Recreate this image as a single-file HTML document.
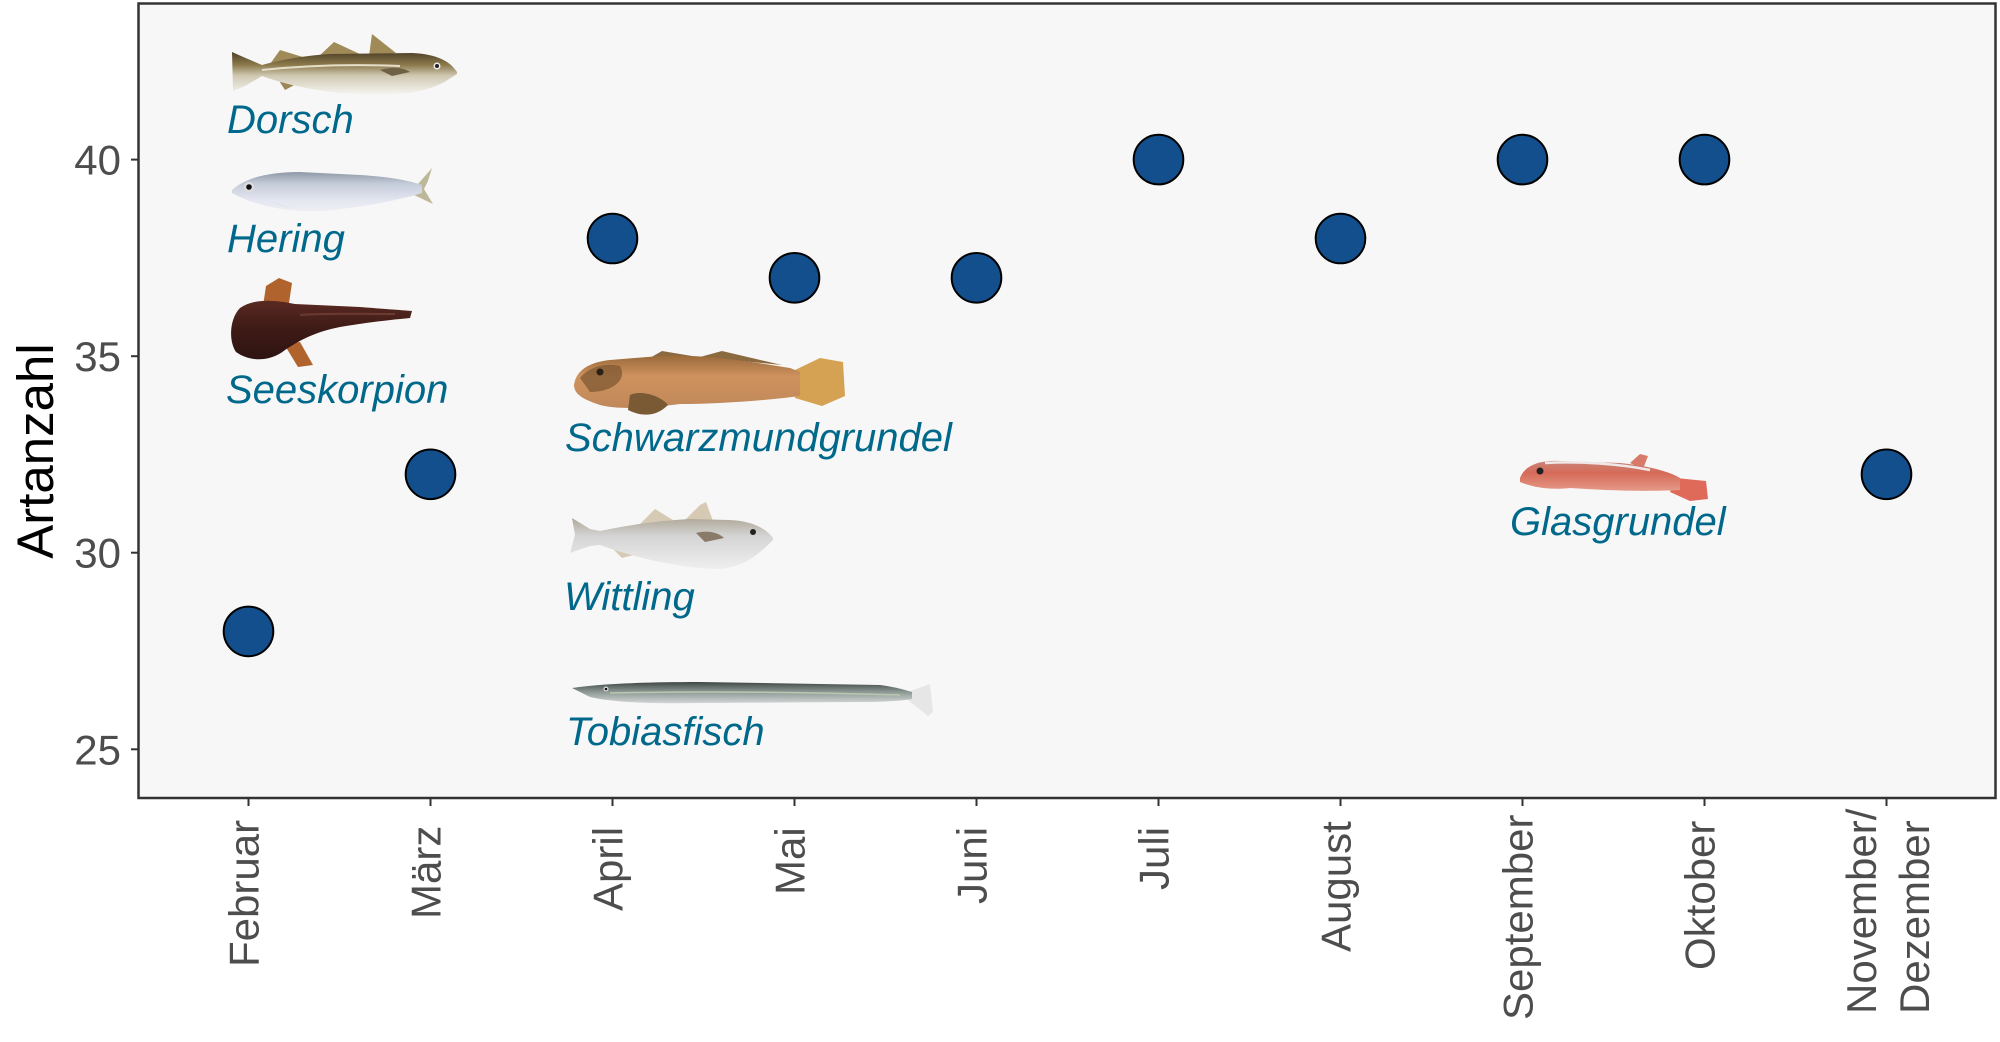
<!DOCTYPE html>
<html><head><meta charset="utf-8"><style>
html,body{margin:0;padding:0;background:#fff;}
svg{display:block;}
.tick{font-family:"Liberation Sans",sans-serif;font-size:42px;fill:#4d4d4d;}
.lab{font-family:"Liberation Sans",sans-serif;font-size:40px;font-style:italic;fill:#00688B;}
</style></head><body>
<svg width="2000" height="1042" viewBox="0 0 2000 1042" xmlns="http://www.w3.org/2000/svg">
<defs>
<linearGradient id="gDorsch" x1="0" y1="0" x2="0" y2="1">
<stop offset="0" stop-color="#4e4128"/><stop offset="0.3" stop-color="#8c7a4c"/><stop offset="0.55" stop-color="#cfc8b2"/><stop offset="1" stop-color="#f6f6f2"/></linearGradient>
<linearGradient id="gHering" x1="0" y1="0" x2="0" y2="1">
<stop offset="0" stop-color="#8e98a6"/><stop offset="0.3" stop-color="#c5ccd9"/><stop offset="0.7" stop-color="#e3e5f0"/><stop offset="1" stop-color="#efeff4"/></linearGradient>
<linearGradient id="gSkorp" x1="0" y1="0" x2="0" y2="1">
<stop offset="0" stop-color="#5a2a22"/><stop offset="0.5" stop-color="#3d1a16"/><stop offset="1" stop-color="#2e1411"/></linearGradient>
<linearGradient id="gSchw" x1="0" y1="0" x2="0" y2="1">
<stop offset="0" stop-color="#9a6a3a"/><stop offset="0.4" stop-color="#cf925e"/><stop offset="1" stop-color="#c0885a"/></linearGradient>
<linearGradient id="gWitt" x1="0" y1="0" x2="0" y2="1">
<stop offset="0" stop-color="#b0a898"/><stop offset="0.35" stop-color="#d4d4d4"/><stop offset="1" stop-color="#efefef"/></linearGradient>
<linearGradient id="gTobi" x1="0" y1="0" x2="0" y2="1">
<stop offset="0" stop-color="#3e4644"/><stop offset="0.45" stop-color="#8a9692"/><stop offset="1" stop-color="#d2d6d6"/></linearGradient>
<linearGradient id="gGlas" x1="0" y1="0" x2="0" y2="1">
<stop offset="0" stop-color="#c8857a"/><stop offset="0.4" stop-color="#d66a58"/><stop offset="1" stop-color="#e59a88"/></linearGradient>
</defs>
<rect width="2000" height="1042" fill="#ffffff"/>
<rect x="138.5" y="3.5" width="1857" height="794.5" fill="#f7f7f7" stroke="#333333" stroke-width="2.5"/>

<!-- y ticks -->
<g stroke="#333333" stroke-width="2">
<line x1="131" y1="749.3" x2="138" y2="749.3"/>
<line x1="131" y1="552.7" x2="138" y2="552.7"/>
<line x1="131" y1="356.2" x2="138" y2="356.2"/>
<line x1="131" y1="159.6" x2="138" y2="159.6"/>
</g>
<g class="tick" text-anchor="end">
<text x="121" y="764.3">25</text>
<text x="121" y="567.7">30</text>
<text x="121" y="371.2">35</text>
<text x="121" y="174.6">40</text>
</g>
<text transform="translate(53,451) rotate(-90)" text-anchor="middle" font-family="Liberation Sans, sans-serif" font-size="51" fill="#000">Artanzahl</text>

<!-- x ticks -->
<g stroke="#333333" stroke-width="2">
<line x1="248.5" y1="799" x2="248.5" y2="806"/>
<line x1="430.5" y1="799" x2="430.5" y2="806"/>
<line x1="612.5" y1="799" x2="612.5" y2="806"/>
<line x1="794.5" y1="799" x2="794.5" y2="806"/>
<line x1="976.5" y1="799" x2="976.5" y2="806"/>
<line x1="1158.5" y1="799" x2="1158.5" y2="806"/>
<line x1="1340.5" y1="799" x2="1340.5" y2="806"/>
<line x1="1522.5" y1="799" x2="1522.5" y2="806"/>
<line x1="1704.5" y1="799" x2="1704.5" y2="806"/>
<line x1="1886.5" y1="799" x2="1886.5" y2="806"/>
</g>
<g class="tick">
<text transform="translate(258.5,967) rotate(-90)">Februar</text>
<text transform="translate(440.5,919) rotate(-90)">März</text>
<text transform="translate(622.5,911) rotate(-90)">April</text>
<text transform="translate(804.5,895) rotate(-90)">Mai</text>
<text transform="translate(986.5,904) rotate(-90)">Juni</text>
<text transform="translate(1168.5,890) rotate(-90)">Juli</text>
<text transform="translate(1350.5,952) rotate(-90)">August</text>
<text transform="translate(1532.5,1020) rotate(-90)">September</text>
<text transform="translate(1714.5,970) rotate(-90)">Oktober</text>
<text transform="translate(1876,1014) rotate(-90)">November/</text>
<text transform="translate(1929,1014) rotate(-90)">Dezember</text>
</g>

<!-- Dorsch -->
<g>
<path d="M270,64 L280,50 L306,58 Z" fill="#a08a58"/>
<path d="M318,57 L334,42 L362,55 Z" fill="#a08a58"/>
<path d="M369,56 L372,34 L396,53 Z" fill="#a08a58"/>
<path d="M276,76 L285,90 L300,82 Z" fill="#9c8656"/>
<path d="M318,86 L338,92 L345,88 Z" fill="#9c8656"/>
<path d="M457,72 C450,61 436,54 412,53 L330,54 C300,56 276,61 262,65 L241,56 L232,52 L233,91 L245,86 L262,76 C290,86 330,95 380,95 C412,95 432,89 446,81 L457,74 Z" fill="url(#gDorsch)"/>
<path d="M262,70 C300,66 350,64 400,66" stroke="#e6dfc8" stroke-width="2" fill="none"/>
<path d="M380,70 C392,66 405,68 410,72 L392,76 Z" fill="#6f6244"/>
<circle cx="437" cy="66" r="3.5" fill="#eee"/><circle cx="437" cy="66" r="2" fill="#222"/>
</g>
<text class="lab" x="227" y="133">Dorsch</text>

<!-- Hering -->
<g>
<path d="M418,184 L432,168 L428,181 L424,189 L433,204 L414,195 Z" fill="#bdb89a"/>
<path d="M232,190 C245,178 268,172 300,172 L360,175 C392,177 410,181 422,185 L422,193 C400,200 360,208 320,211 C290,213 255,206 232,193 Z" fill="url(#gHering)"/>
<path d="M270,202 L292,208 L280,205 Z" fill="#c8c8c8"/>
<circle cx="249" cy="187" r="5" fill="#ddd"/><circle cx="249" cy="187" r="2.8" fill="#111"/>
</g>
<text class="lab" x="227" y="252">Hering</text>

<!-- Seeskorpion -->
<g>
<path d="M263,306 L266,286 L279,278 L292,283 L289,303 Z" fill="#b0632d"/>
<path d="M284,344 L298,367 L313,365 L300,342 Z" fill="#b0632d"/>
<path d="M240,308 C255,298 275,300 295,304 L360,307 C385,309 400,310 412,311 L410,318 C390,320 370,322 340,327 C315,332 300,340 285,350 C270,362 250,362 236,352 C228,340 230,318 240,308 Z" fill="url(#gSkorp)"/>
<path d="M300,315 C330,313 360,314 395,314" stroke="#6b3a30" stroke-width="2" fill="none"/>
</g>
<text class="lab" x="226" y="403">Seeskorpion</text>

<!-- Schwarzmundgrundel -->
<g>
<path d="M648,359 L662,351 L692,356 Z" fill="#8c6a40"/>
<path d="M700,357 L722,351 L782,365 Z" fill="#8c6a40"/>
<path d="M795,370 L820,358 L843,362 L845,396 L822,406 L795,398 Z" fill="#d4a252"/>
<path d="M574,385 C576,370 590,362 610,360 L660,356 C700,354 740,360 790,368 L800,372 L800,396 C770,400 720,404 680,404 C650,408 620,410 600,405 C585,400 574,395 574,385 Z" fill="url(#gSchw)"/>
<path d="M580,378 C590,366 606,363 620,366 C628,380 612,392 590,392 Z" fill="#7a5530" opacity="0.7"/>
<path d="M630,395 C640,390 660,395 668,405 C655,418 640,416 628,410 Z" fill="#7a5a35"/>
<circle cx="600" cy="372" r="3.5" fill="#2a2018"/>
</g>
<text class="lab" x="565" y="451">Schwarzmundgrundel</text>

<!-- Wittling -->
<g>
<path d="M640,524 L655,509 L673,520 Z" fill="#d6cab5"/>
<path d="M684,521 L700,505 L706,502 L713,521 Z" fill="#d6cab5"/>
<path d="M612,548 L622,558 L642,553 Z" fill="#d6cab5"/>
<path d="M773,538 C765,527 750,521 730,520 L690,519 C650,521 620,527 600,531 L590,529 L572,518 L575,535 L570,553 L590,546 L600,545 C630,556 680,569 720,569 C745,567 760,553 773,540 Z" fill="url(#gWitt)"/>
<path d="M696,533 C706,530 718,532 724,538 L705,542 Z" fill="#8a7a6a"/>
<circle cx="753" cy="532" r="3" fill="#222"/>
</g>
<text class="lab" x="564" y="610">Wittling</text>

<!-- Tobiasfisch -->
<g>
<path d="M908,692 L930,684 L933,712 L928,716 L908,700 Z" fill="#e6e6e6"/>
<path d="M572,688 C600,684 640,682 700,682 L880,685 C895,687 905,690 912,692 L912,699 C900,701 880,702 860,702 L700,703 C650,704 610,702 590,697 Z" fill="url(#gTobi)"/>
<path d="M610,693 C700,691 800,692 900,695" stroke="#b8c8b0" stroke-width="1.5" fill="none"/>
<circle cx="606" cy="689" r="2.5" fill="#ddd"/><circle cx="606" cy="689" r="1.3" fill="#111"/>
</g>
<text class="lab" x="566" y="745">Tobiasfisch</text>

<!-- Glasgrundel -->
<g>
<path d="M1630,463 L1640,454 L1648,456 L1643,469 Z" fill="#d87a6a"/>
<path d="M1676,478 L1706,481 L1708,499 L1690,501 L1670,492 Z" fill="#e06a5a"/>
<path d="M1520,478 C1525,465 1540,460 1560,461 L1620,463 C1650,466 1670,472 1680,478 L1680,490 C1640,492 1600,490 1570,488 C1550,490 1535,488 1520,482 Z" fill="url(#gGlas)"/>
<path d="M1545,463 C1580,461 1620,464 1650,470" stroke="#f0e8e8" stroke-width="2.5" fill="none"/>
<circle cx="1540" cy="471" r="3.5" fill="#222"/>
</g>
<text class="lab" x="1510" y="535">Glasgrundel</text>

<!-- points -->
<g fill="#124f8c" stroke="#000" stroke-width="2">
<circle cx="248.5" cy="631.4" r="24.8"/>
<circle cx="430.5" cy="474.3" r="24.8"/>
<circle cx="612.5" cy="238.5" r="24.8"/>
<circle cx="794.5" cy="277.8" r="24.8"/>
<circle cx="976.5" cy="277.8" r="24.8"/>
<circle cx="1158.5" cy="159.6" r="24.8"/>
<circle cx="1340.5" cy="238.5" r="24.8"/>
<circle cx="1522.5" cy="159.6" r="24.8"/>
<circle cx="1704.5" cy="159.6" r="24.8"/>
<circle cx="1886.5" cy="474.3" r="24.8"/>
</g>
</svg>
</body></html>
